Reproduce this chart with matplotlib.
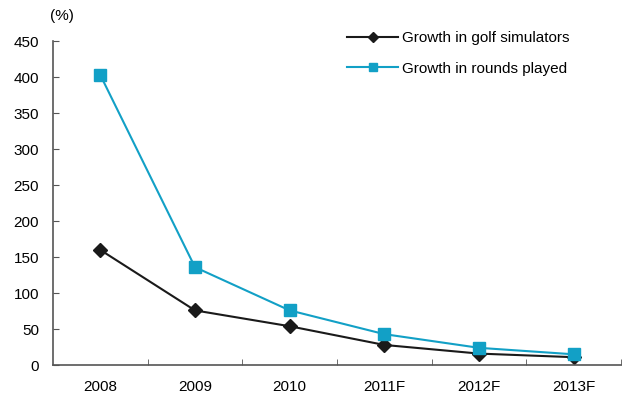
import matplotlib
matplotlib.use("Agg")
import matplotlib.pyplot as plt
import numpy as np

plt.rcParams['font.family'] = ['Liberation Sans', 'DejaVu Sans']

years = ["2008", "2009", "2010", "2011F", "2012F", "2013F"]
golf_simulators = [160, 76, 54, 28, 16, 11]
rounds_played = [403, 136, 76, 43, 24, 15]

fig = plt.figure(figsize=(6.23, 3.96), dpi=100)
ax = fig.add_axes([0.085, 0.078, 0.912, 0.818])

x = np.arange(len(years))
ax.plot(x, golf_simulators, color='#1a1a1a', lw=1.5, marker='D', ms=7,
        label='Growth in golf simulators')
ax.plot(x, rounds_played, color='#12a0c6', lw=1.5, marker='s', ms=8,
        label='Growth in rounds played')

ax.set_xlim(-0.5, len(years) - 0.5)
ax.set_ylim(0, 450)
ax.set_yticks(np.arange(0, 451, 50))
ax.set_xticks(x)
ax.set_xticklabels(years)
ax.set_xticks(np.arange(0.5, len(years) - 0.4, 1), minor=True)

for s in ['top', 'right']:
    ax.spines[s].set_visible(False)
for s in ['left', 'bottom']:
    ax.spines[s].set_color('#555555')
    ax.spines[s].set_linewidth(1.2)

ax.tick_params(axis='y', direction='in', length=4, color='#555555', labelsize=11, pad=10)
ax.tick_params(axis='x', which='major', length=0, labelsize=11, pad=11)
ax.tick_params(axis='x', which='minor', direction='in', length=4, color='#555555')

ax.text(-0.005, 1.055, '(%)', transform=ax.transAxes, fontsize=11, ha='left', va='bottom')

ax.legend(loc='upper left', bbox_to_anchor=(0.494, 1.074), frameon=False, fontsize=11,
          handlelength=3.3, labelspacing=1.1, handletextpad=0.3, markerscale=0.8)

fig.savefig('out.png', dpi=100)
